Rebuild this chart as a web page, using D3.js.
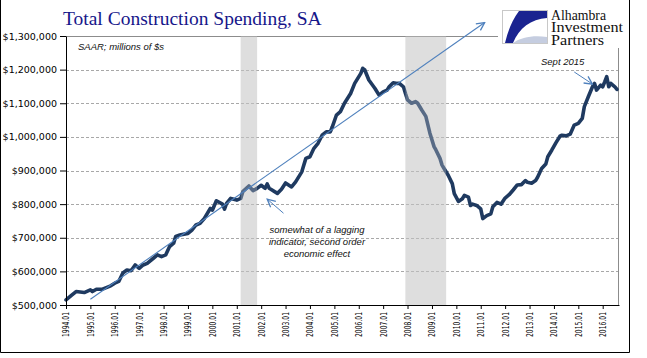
<!DOCTYPE html>
<html>
<head>
<meta charset="utf-8">
<script src="https://cdn.jsdelivr.net/npm/d3@7"></script>
<style>
  body { margin: 0; background: #fff; }
</style>
</head>
<body>
<svg id="chart" width="647" height="358"></svg>
<script>
// monthly readings (SAAR, millions of $)
const months = [
  "1994.01","1994.04","1994.06","1994.10","1995.01","1995.02","1995.04","1995.07","1995.11","1996.01",
  "1996.03","1996.05","1996.07","1996.09","1996.11","1997.01","1997.03","1997.05","1997.08","1997.10",
  "1997.12","1998.02","1998.04","1998.06","1998.07","1998.09","1999.01","1999.03","1999.05","1999.07",
  "1999.09","1999.12","2000.01","2000.03","2000.06","2000.07","2000.08","2000.10","2001.01","2001.03",
  "2001.04","2001.07","2001.09","2001.11","2002.01","2002.03","2002.04","2002.05","2002.09","2002.11",
  "2003.01","2003.04","2003.06","2003.09","2003.11","2004.01","2004.03","2004.05","2004.07","2004.09",
  "2004.11","2004.12","2005.02","2005.04","2005.06","2005.09","2005.11","2006.02","2006.03","2006.04",
  "2006.06","2006.09","2006.11","2007.01","2007.03","2007.04","2007.06","2007.08","2007.09","2007.11",
  "2007.12","2008.01","2008.03","2008.05","2008.06","2008.08","2008.10","2008.12","2009.02","2009.03",
  "2009.05","2009.06","2009.07","2009.09","2009.11","2009.12","2010.02","2010.04","2010.05","2010.07",
  "2010.08","2010.09","2010.11","2011.01","2011.02","2011.04","2011.06","2011.07","2011.09","2011.11",
  "2012.01","2012.03","2012.05","2012.07","2012.09","2012.11","2012.12","2013.02","2013.04","2013.05",
  "2013.07","2013.09","2013.10","2013.12","2014.02","2014.04","2014.05","2014.07","2014.09","2014.11",
  "2015.01","2015.03","2015.04","2015.06","2015.08","2015.09","2015.10","2015.12","2016.01","2016.02",
  "2016.03","2016.04","2016.05","2016.07","2016.08"
];
const spending = [
  515000,530000,540000,537000,545000,540000,547000,547000,557000,565000,
  570000,595000,604000,602000,619000,609000,619000,624000,639000,649000,
  644000,649000,674000,684000,704000,708000,713000,723000,738000,743000,
  757000,787000,782000,810000,800000,785000,802000,817000,812000,817000,
  837000,854000,840000,847000,856000,847000,860000,847000,832000,844000,
  863000,851000,866000,896000,936000,941000,966000,981000,1005000,1015000,
  1015000,1030000,1065000,1075000,1100000,1129000,1159000,1189000,1204000,1199000,
  1169000,1144000,1124000,1134000,1139000,1149000,1161000,1159000,1159000,1149000,
  1129000,1110000,1100000,1105000,1100000,1080000,1061000,1011000,971000,961000,
  936000,916000,906000,886000,861000,831000,808000,816000,826000,821000,
  796000,800000,796000,786000,757000,766000,771000,792000,805000,800000,
  818000,828000,842000,857000,858000,870000,865000,862000,870000,880000,
  906000,919000,941000,961000,983000,1002000,1005000,1003000,1008000,1035000,
  1040000,1055000,1090000,1120000,1149000,1159000,1139000,1154000,1149000,1164000,
  1179000,1149000,1159000,1149000,1141000
];
const yTicks = [500000, 600000, 700000, 800000, 900000, 1000000, 1100000, 1200000, 1300000];
const tickYears = d3.range(1994, 2017);
const recessions = [["2001.03", "2001.11"], ["2007.12", "2009.08"]];

const parse = d3.timeParse("%Y.%m");
const data = months.map((m, i) => ({ date: parse(m), value: spending[i] }));

const margin = { t: 36, r: 28, b: 53, l: 66 };
const W = 647, H = 358;
const innerWidth = W - margin.l - margin.r;
const innerHeight = H - margin.t - margin.b;

const svg = d3.select("#chart");

// outer frame
svg.append("path")
  .attr("d", `M0.5,-1 V352.5 H629.5 V-1`)
  .attr("fill", "none")
  .attr("stroke", "#000");

const x = d3.scaleTime()
  .domain([parse("1994.01"), parse("2016.09")])
  .range([0, innerWidth]);
const y = d3.scaleLinear()
  .domain([500000, 1300000])
  .range([innerHeight, 0]);

const plot = svg.append("g")
  .attr("transform", `translate(${margin.l}, ${margin.t})`);

// recession bands
plot.selectAll("rect.rec")
  .data(recessions)
  .join("rect")
  .attr("class", "rec")
  .attr("x", d => x(parse(d[0])))
  .attr("width", d => x(parse(d[1])) - x(parse(d[0])))
  .attr("y", 0)
  .attr("height", innerHeight)
  .attr("fill", "#dedede");

// grid
plot.selectAll("line.grid")
  .data(yTicks.filter(d => d > 500000 && d < 1300000))
  .join("line")
  .attr("class", "grid")
  .attr("x1", 0).attr("x2", innerWidth)
  .attr("y1", d => Math.round(y(d)) + 0.5).attr("y2", d => Math.round(y(d)) + 0.5)
  .attr("stroke", "#a8a8a8")
  .attr("stroke-dasharray", "3,2");

// top and right border
plot.append("path")
  .attr("d", `M0,${0.5} H${innerWidth - 0.5} V${innerHeight}`)
  .attr("fill", "none")
  .attr("stroke", "#8c8c8c");

// arrow heads
const defs = svg.append("defs");
defs.append("marker")
  .attr("id", "head")
  .attr("viewBox", "0 0 10 10")
  .attr("refX", 9).attr("refY", 5)
  .attr("markerWidth", 10).attr("markerHeight", 10)
  .attr("markerUnits", "userSpaceOnUse")
  .attr("orient", "auto")
  .append("path")
  .attr("d", "M1,1 L9,5 L1,9")
  .attr("fill", "none")
  .attr("stroke", "#4f81bd")
  .attr("stroke-width", 1.3);

const arrows = [
  { from: ["1995.01", 517000], to: ["2011.03", 1340000], w: 1.1 },
  { from: ["2002.12", 773000], to: ["2002.04", 815000], w: 1 },
  { from: ["2014.11", 1193000], to: ["2015.08", 1157000], w: 1 }
];

const line = d3.line()
  .x(d => x(d.date))
  .y(d => y(d.value));

plot.append("path")
  .datum(data)
  .attr("d", line)
  .attr("fill", "none")
  .attr("stroke", "#1f3a60")
  .attr("stroke-width", 3.6)
  .attr("stroke-linejoin", "round")
  .attr("stroke-linecap", "round");

// shading over the line inside recessions
plot.selectAll("rect.recTop")
  .data(recessions)
  .join("rect")
  .attr("class", "recTop")
  .attr("x", d => x(parse(d[0])))
  .attr("width", d => x(parse(d[1])) - x(parse(d[0])))
  .attr("y", 0)
  .attr("height", innerHeight)
  .attr("fill", "#dedede")
  .attr("opacity", 0.3);

plot.selectAll("line.arrow")
  .data(arrows)
  .join("line")
  .attr("class", "arrow")
  .attr("x1", d => x(parse(d.from[0]))).attr("y1", d => y(d.from[1]))
  .attr("x2", d => x(parse(d.to[0]))).attr("y2", d => y(d.to[1]))
  .attr("stroke", "#4f81bd")
  .attr("stroke-width", d => d.w)
  .attr("marker-end", "url(#head)");

// axes
const axisY = d3.axisLeft(y)
  .tickValues(yTicks)
  .tickSize(6)
  .tickSizeOuter(0)
  .tickFormat(d3.format("$,"));

plot.append("g")
  .attr("class", "axis axis-y")
  .call(axisY)
  .call(g => g.select(".domain").attr("stroke", "#000"))
  .call(g => g.selectAll("line").attr("stroke", "#000"))
  .selectAll("text")
  .attr("x", -9)
  .attr("fill", "#000")
  .style("font-family", "DejaVu Sans")
  .style("font-size", "9.5px");

const axisX = d3.axisBottom(x)
  .tickValues(tickYears.map(yr => parse(yr + ".01")))
  .tickSize(4)
  .tickSizeOuter(0)
  .tickFormat(d3.timeFormat("%Y.%m"));

plot.append("g")
  .attr("class", "axis axis-x")
  .attr("transform", `translate(0, ${innerHeight})`)
  .call(axisX)
  .call(g => g.select(".domain").attr("stroke", "#000"))
  .call(g => g.selectAll("line").attr("stroke", "#000"))
  .selectAll("text")
  .attr("transform", "rotate(-90)")
  .attr("x", -7)
  .attr("y", 0)
  .attr("dy", "0.35em")
  .attr("fill", "#000")
  .attr("textLength", 25)
  .attr("lengthAdjust", "spacingAndGlyphs")
  .style("text-anchor", "end")
  .style("font-family", "DejaVu Sans")
  .style("font-size", "8.5px");

// title
svg.append("text")
  .attr("x", 63).attr("y", 25)
  .attr("fill", "#16168a")
  .style("font-family", "Liberation Serif")
  .style("font-size", "19.5px")
  .text("Total Construction Spending, SA");

// annotations
const note = (xx, yy, txt, anchor) => svg.append("text")
  .attr("x", xx).attr("y", yy)
  .attr("text-anchor", anchor || "start")
  .attr("fill", "#111")
  .style("font-family", "Liberation Sans")
  .style("font-style", "italic")
  .style("font-size", "9.5px")
  .text(txt);

note(78, 50, "SAAR; millions of $s");
note(541, 65, "Sept 2015");
note(317, 233, "somewhat of a lagging", "middle");
note(317, 245, "indicator, second order", "middle");
note(317, 257, "economic effect", "middle");

// logo
const logo = svg.append("g");
logo.append("rect")
  .attr("x", 498).attr("y", 0).attr("width", 131).attr("height", 48)
  .attr("fill", "#fff");
logo.append("rect")
  .attr("x", 502.5).attr("y", 10.5).attr("width", 45).attr("height", 33)
  .attr("fill", "#fff").attr("stroke", "#c8c8c8");
logo.append("path")
  .attr("d", "M519,11 L547,11 L547,18 C531,19 519,28 513,43 L505,43 C508,31 512,20 519,11 Z")
  .attr("fill", "#1a2390");
logo.append("path")
  .attr("d", "M513,43 C521,37 534,35 547,37 L547,43 Z")
  .attr("fill", "#c5cde0");
["Alhambra", "Investment", "Partners"].forEach((t, i) => {
  logo.append("text")
    .attr("x", 551).attr("y", 20 + i * 12.3)
    .attr("fill", "#111")
    .attr("textLength", [55, 72, 53][i])
    .attr("lengthAdjust", "spacingAndGlyphs")
    .style("font-family", "Liberation Serif")
    .style("font-size", "14px")
    .text(t);
});
</script>
</body>
</html>
